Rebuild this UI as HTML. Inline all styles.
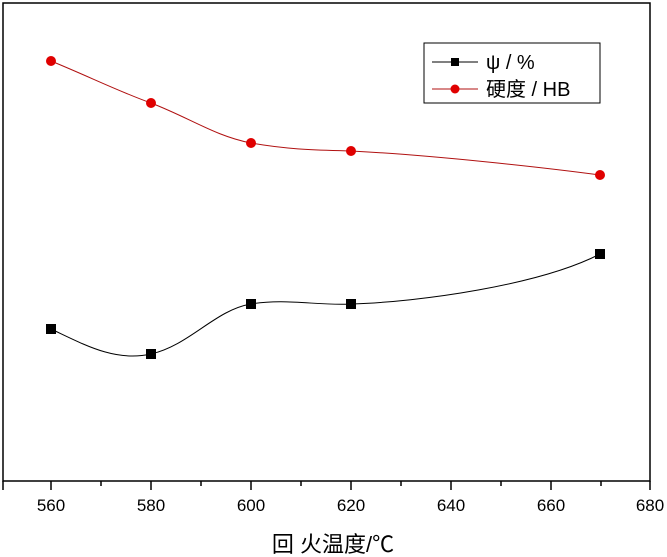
<!DOCTYPE html>
<html><head><meta charset="utf-8"><style>body{margin:0;background:#fff}svg{display:block}</style></head><body>
<svg width="667" height="557" xmlns="http://www.w3.org/2000/svg" font-family="Liberation Sans, Noto Sans CJK SC, sans-serif">
<rect x="3" y="3" width="647" height="478" fill="none" stroke="#000" stroke-width="1.5"/>
<g stroke="#000" stroke-width="1.5">
<line x1="51" y1="481" x2="51" y2="490"/><line x1="151" y1="481" x2="151" y2="490"/><line x1="251" y1="481" x2="251" y2="490"/><line x1="351" y1="481" x2="351" y2="490"/><line x1="451" y1="481" x2="451" y2="490"/><line x1="551" y1="481" x2="551" y2="490"/><line x1="650" y1="481" x2="650" y2="490"/>
<line x1="101" y1="481" x2="101" y2="486"/><line x1="201" y1="481" x2="201" y2="486"/><line x1="301" y1="481" x2="301" y2="486"/><line x1="401" y1="481" x2="401" y2="486"/><line x1="501" y1="481" x2="501" y2="486"/><line x1="601" y1="481" x2="601" y2="486"/><line x1="3" y1="481" x2="3" y2="490"/>
</g>
<g font-size="17" text-anchor="middle" fill="#000">
<text x="51" y="511">560</text><text x="151" y="511">580</text><text x="251" y="511">600</text><text x="351" y="511">620</text><text x="451" y="511">640</text><text x="551" y="511">660</text><text x="650" y="511">680</text>
</g>
<text x="333" y="552" font-size="22" text-anchor="middle">回 火温度/℃</text>
<path d="M51,329 C85,345 115,362 151,354 C190,345 215,310 251,304 C285,298 320,306 351,304 C420,302 540,285 600,254" fill="none" stroke="#000" stroke-width="1"/>
<path d="M51,61 C90,77 120,92 151,103 C190,118 215,136 251,143 C290,150 320,150 351,151 C430,155 540,167 600,175" fill="none" stroke="#b01010" stroke-width="1"/>
<g fill="#000"><rect x="46" y="324" width="10" height="10"/><rect x="146" y="349" width="10" height="10"/><rect x="246" y="299" width="10" height="10"/><rect x="346" y="299" width="10" height="10"/><rect x="595" y="249" width="10" height="10"/></g>
<g fill="#e00000"><circle cx="51" cy="61" r="5"/><circle cx="151" cy="103" r="5"/><circle cx="251" cy="143" r="5"/><circle cx="351" cy="151" r="5"/><circle cx="600" cy="175" r="5"/></g>
<rect x="424" y="43" width="176" height="60" fill="#fff" stroke="#000" stroke-width="1"/>
<line x1="432" y1="62" x2="478" y2="62" stroke="#000"/><rect x="451" y="58" width="8" height="8" fill="#000"/>
<line x1="432" y1="89" x2="478" y2="89" stroke="#b01010"/><circle cx="455" cy="89" r="4.5" fill="#e00000"/>
<text x="486" y="69" font-size="20">ψ / %</text>
<text x="486" y="96" font-size="20">硬度 / HB</text>
</svg>
</body></html>
